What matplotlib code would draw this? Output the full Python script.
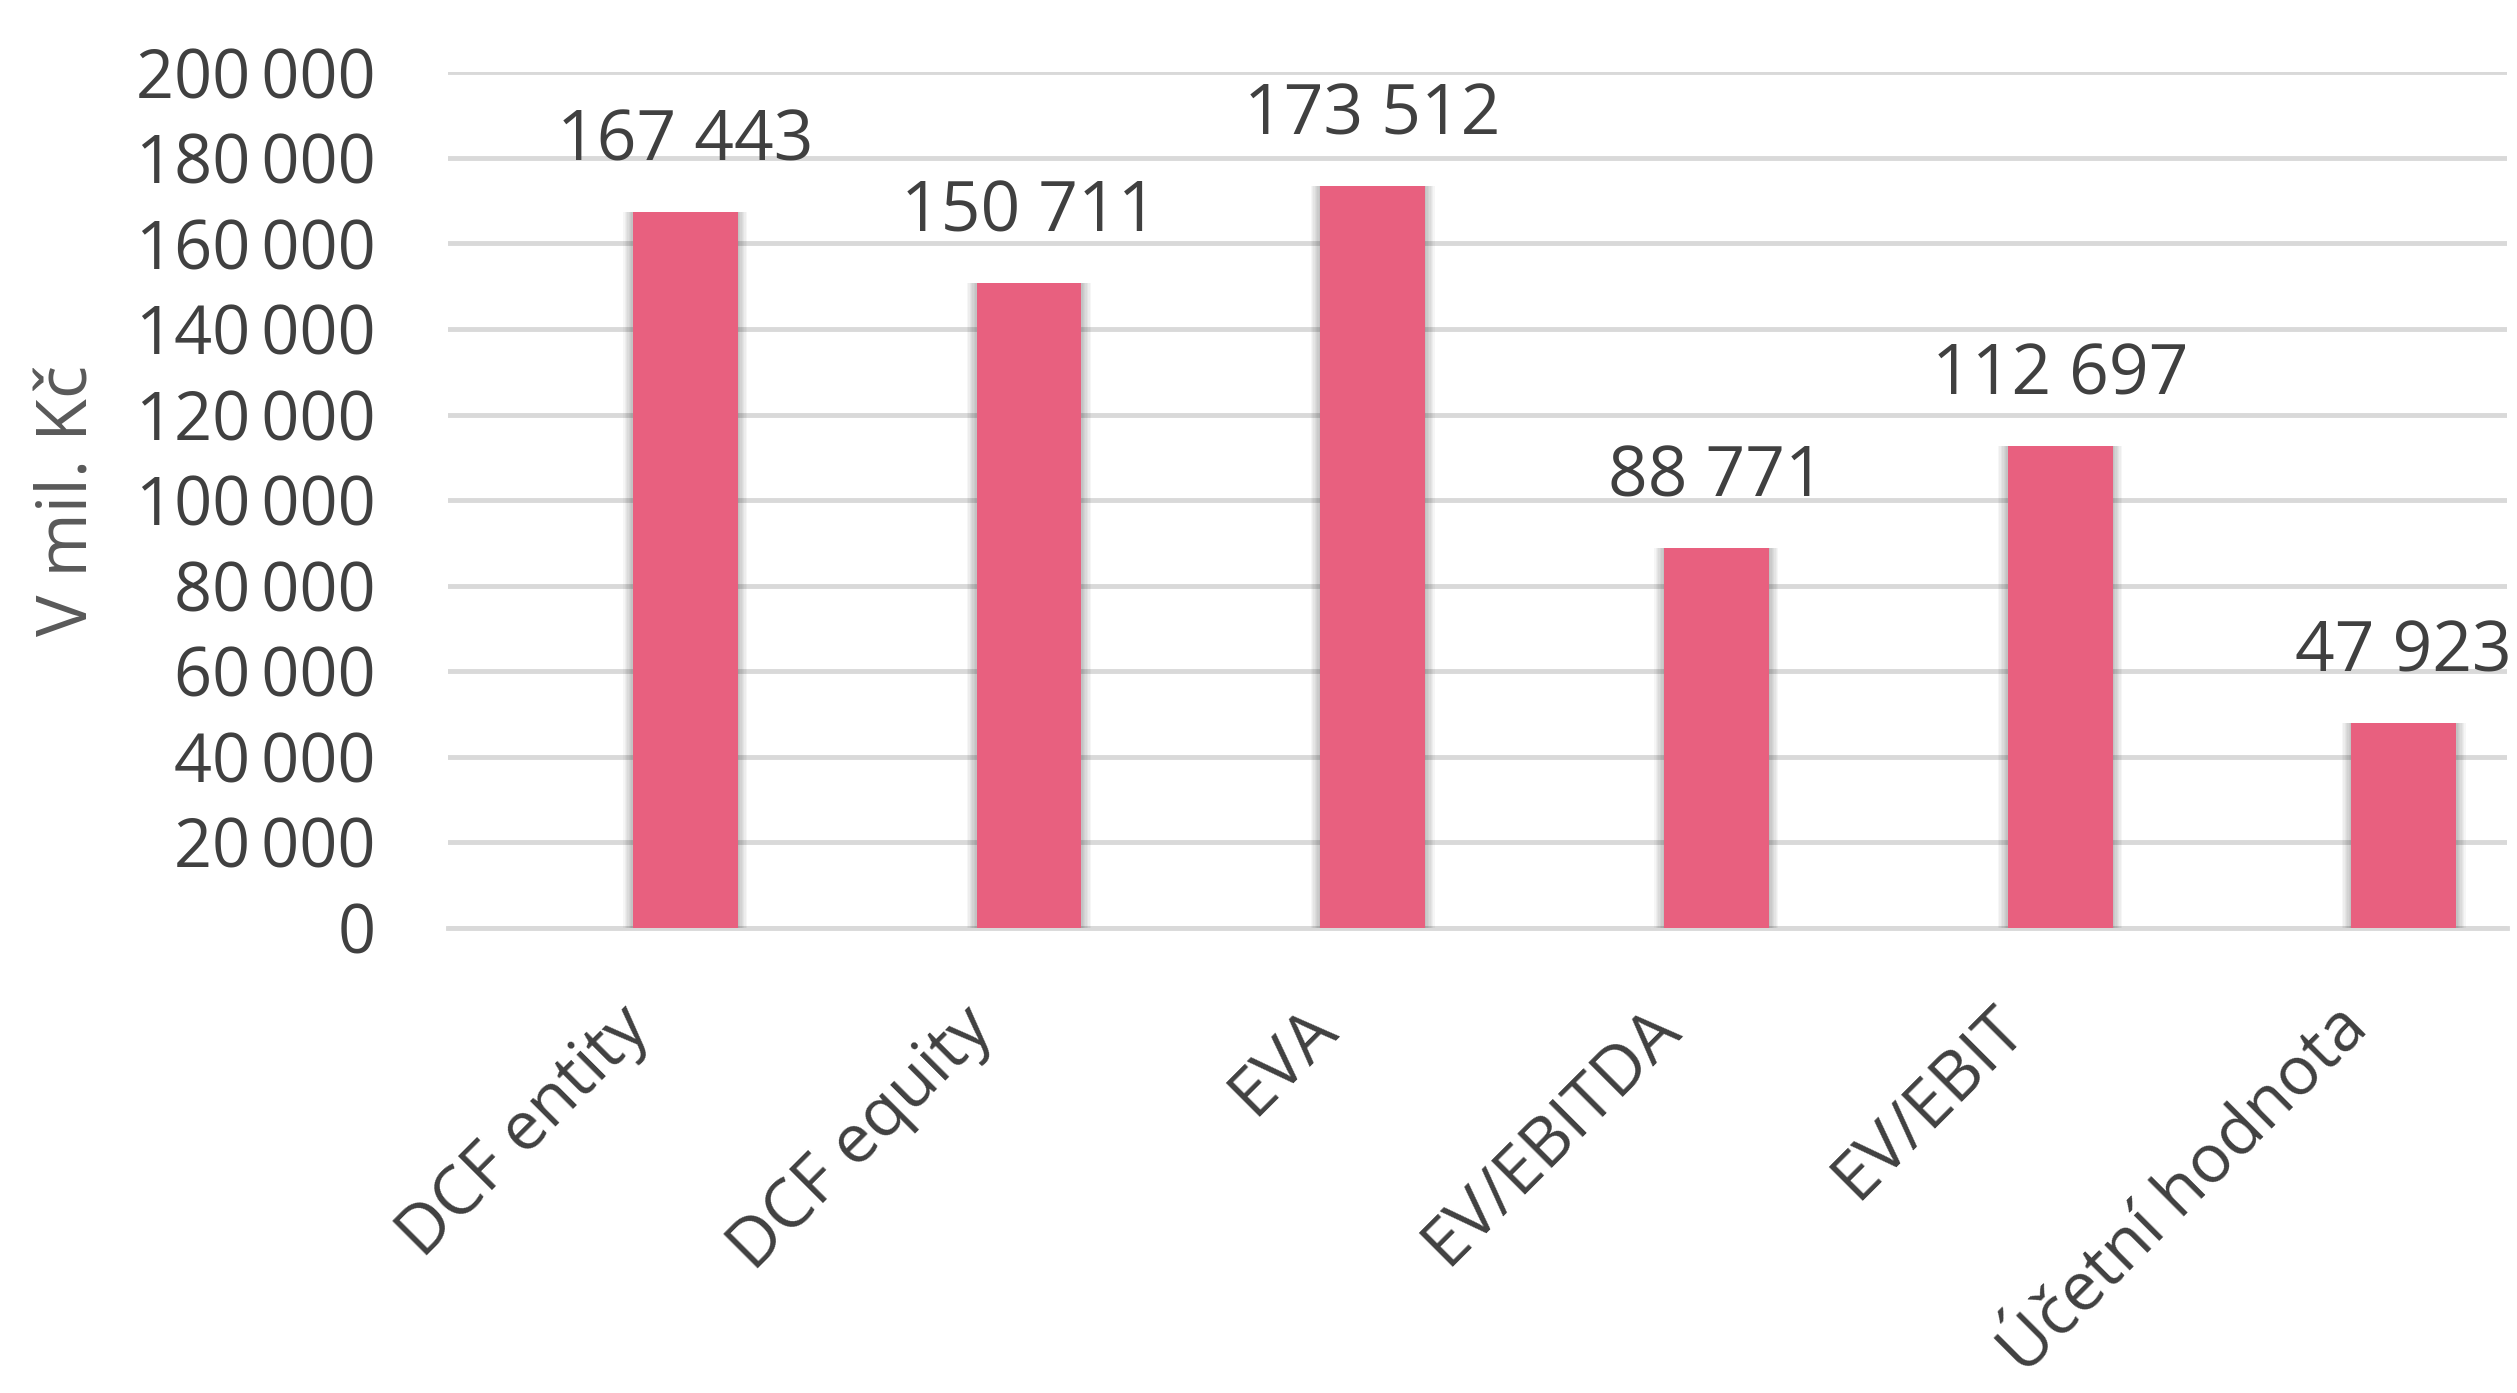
import matplotlib
matplotlib.use("Agg")
import matplotlib.pyplot as plt
from matplotlib.ticker import FixedLocator, FuncFormatter
from matplotlib.transforms import ScaledTranslation

categories = ["DCF entity", "DCF equity", "EVA", "EV/EBITDA", "EV/EBIT", "Účetní hodnota"]
values = [167443, 150711, 173512, 88771, 112697, 47923]
value_labels = ["167 443", "150 711", "173 512", "88 771", "112 697", "47 923"]
yticks = [0, 20000, 40000, 60000, 80000, 100000, 120000, 140000, 160000, 180000, 200000]
ylabel = "V mil. Kč"

bar_color = "#E8607F"
text_color = "#404040"
grid_color = "#D9D9D9"

fig = plt.figure(figsize=(25.17, 13.93), dpi=100)
ax = fig.add_axes([0.178, 0.334, 0.818, 0.614])

x = list(range(len(categories)))
bw = 0.305
# soft shadow imitation
for k in range(1, 8):
    ax.bar(x, values, width=bw + k * 0.008, color="#000000", alpha=0.035, zorder=2,
           linewidth=0)
ax.bar(x, values, width=bw, color=bar_color, zorder=3, linewidth=0)

for xi, v, lab in zip(x, values, value_labels):
    ax.annotate(lab, xy=(xi, v), xytext=(0, 50), textcoords="offset points",
                ha="center", va="center", fontsize=50, color=text_color,
                family=["Open Sans", "DejaVu Sans"], annotation_clip=False)

ax.set_xlim(-0.69, 5.30)
ax.set_ylim(0, 200000)
ax.yaxis.set_major_locator(FixedLocator(yticks))
ax.yaxis.set_major_formatter(FuncFormatter(
    lambda v, p: "0" if v == 0 else f"{int(v):,}".replace(",", "\u2009")))
ax.grid(axis="y", color=grid_color, linewidth=3.5, zorder=0)
ax.set_axisbelow(True)
for s in ["top", "right", "left"]:
    ax.spines[s].set_visible(False)
ax.spines["bottom"].set_color(grid_color)
ax.spines["bottom"].set_linewidth(3.5)
ax.spines["bottom"].set_zorder(1)

ax.tick_params(axis="y", length=0, pad=52, labelsize=48, labelcolor=text_color)
ax.tick_params(axis="x", length=0, pad=30, labelsize=49, labelcolor=text_color)
for t in ax.get_yticklabels():
    t.set_family(["Open Sans", "DejaVu Sans"])

ax.set_xticks(x)
ax.set_xticklabels(categories, rotation=45, ha="right", va="top",
                   rotation_mode="anchor", family=["Open Sans", "DejaVu Sans"])
off = ScaledTranslation(-0.70, -0.25, fig.dpi_scale_trans)
for t in ax.get_xticklabels():
    t.set_transform(t.get_transform() + off)

ax.set_ylabel(ylabel, fontsize=50, color="#595959",
              family=["Open Sans", "DejaVu Sans"])
ax.yaxis.set_label_coords(-0.167, 0.5)

fig.savefig("out.png", dpi=100)
